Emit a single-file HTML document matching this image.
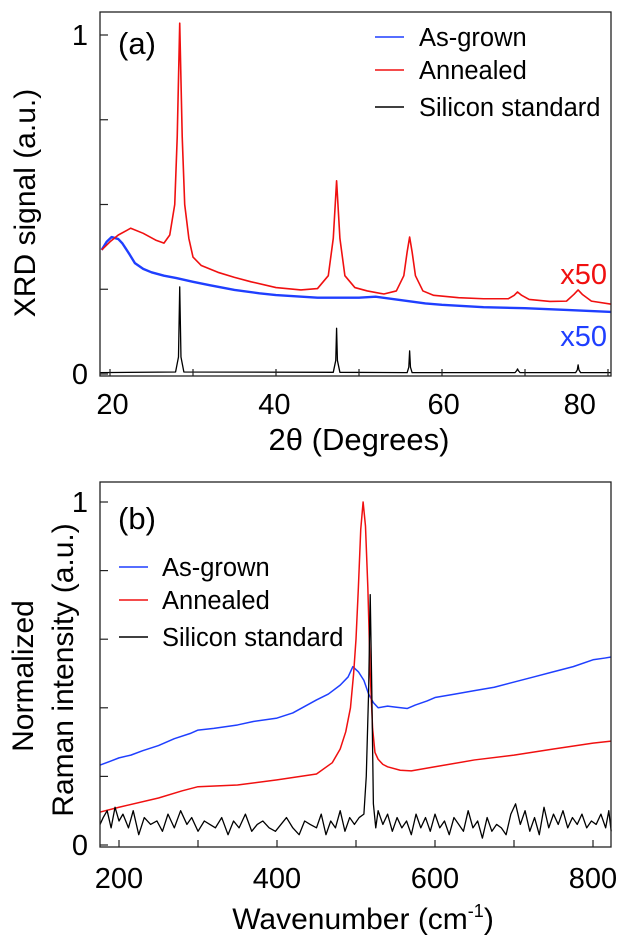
<!DOCTYPE html>
<html><head><meta charset="utf-8"><style>
html,body{margin:0;padding:0;background:#fff;}
svg{display:block;font-family:"Liberation Sans",Arial,sans-serif;}
</style></head><body>
<svg id="fig" width="624" height="947" viewBox="0 0 624 947" xmlns="http://www.w3.org/2000/svg">
<g id="pa"></g>
<g id="pb"></g>
</svg>
<script>
// ---------- Panel (a) XRD data ----------
const xrdAnnealedX=[19,20,21,22.5,24,25.5,26.5,27.2,27.8,28.1,28.4,28.7,29,29.5,30,31,33,35,37,40,43,45,46.3,46.9,47.3,47.7,48.3,49.5,51,53,54.5,55.4,55.8,56.1,56.4,56.8,57.7,59,62,65,68,68.7,69.1,69.6,70.5,73,75,75.9,76.4,76.9,78,80.4];
const xrdAnnealedY=[0.366,0.39,0.41,0.43,0.415,0.395,0.386,0.41,0.5,0.7,1.035,0.7,0.5,0.4,0.345,0.32,0.3,0.285,0.272,0.255,0.248,0.252,0.29,0.4,0.57,0.4,0.29,0.255,0.245,0.236,0.245,0.29,0.36,0.404,0.36,0.29,0.245,0.232,0.225,0.222,0.222,0.232,0.242,0.232,0.22,0.214,0.215,0.235,0.248,0.235,0.215,0.206];
const xrdGrownX=[19,19.6,20.2,21,21.5,22.3,23,24,25,26.5,28,30,32,35,38,40,45,50,52,55,58,60,65,70,75,80.4];
const xrdGrownY=[0.366,0.39,0.404,0.398,0.385,0.355,0.327,0.31,0.3,0.29,0.283,0.272,0.262,0.248,0.238,0.233,0.225,0.225,0.228,0.218,0.208,0.204,0.197,0.194,0.189,0.183];
const xrdSiX=[18.8,27.9,28.25,28.4,28.55,28.9,46.9,47.2,47.3,47.4,47.7,55.8,56.0,56.1,56.2,56.4,68.8,69.0,69.1,69.2,69.4,76.1,76.3,76.4,76.5,76.7,80.4];
const xrdSiY=[0.004,0.006,0.05,0.257,0.05,0.006,0.005,0.04,0.135,0.04,0.005,0.004,0.02,0.068,0.02,0.004,0.004,0.01,0.015,0.01,0.004,0.004,0.012,0.027,0.012,0.004,0.004];
const xrdXTicks=[20,30,40,50,60,70,80];
const xrdXLabels=["20","40","60","80"];
const xrdXLabelPos=[20.3,39.8,60.2,76.6];
const xrdYTicks=[0,0.25,0.5,0.75,1];
const xrdYLabels=["0","1"];
const xrdYLabelVals=[0,1];

// ---------- Panel (b) Raman data ----------
const ramGrownX=[176,190,200,215,230,250,270,290,300,320,350,370,400,420,450,465,480,490,496,503,510,516,522,528,540,550,565,575,590,600,625,650,675,700,725,750,775,800,815,823];
const ramGrownY=[0.233,0.245,0.254,0.262,0.275,0.29,0.31,0.325,0.335,0.34,0.35,0.36,0.37,0.385,0.423,0.44,0.466,0.49,0.52,0.505,0.48,0.44,0.415,0.4,0.405,0.402,0.398,0.408,0.42,0.43,0.44,0.45,0.46,0.475,0.49,0.505,0.52,0.54,0.545,0.548];
const ramAnnX=[176,200,250,280,300,350,400,450,470,480,487,493,497,500,503,506,509,512,515,518,521,524,528,534,540,556,570,600,650,700,750,800,823];
const ramAnnY=[0.096,0.11,0.137,0.158,0.17,0.175,0.19,0.207,0.24,0.28,0.33,0.4,0.5,0.6,0.75,0.92,1.0,0.93,0.75,0.5,0.34,0.27,0.25,0.235,0.228,0.218,0.216,0.228,0.248,0.262,0.28,0.297,0.303];
const ramSiX=[176,180,185,190,195,200,205,212,218,225,232,240,248,255,262,270,278,286,292,300,308,315,322,330,338,345,352,360,368,375,382,390,398,405,412,420,428,435,442,450,456,462,468,474,480,486,492,498,504,510,513,516,518,520,522,525,528,534,540,546,552,558,564,570,576,582,588,594,600,606,612,618,624,630,636,642,648,654,660,666,672,678,684,690,696,702,708,714,720,726,732,738,744,750,756,762,768,774,780,786,792,798,804,810,816,820,823];
const ramSiY=[0.06,0.08,0.1,0.05,0.11,0.07,0.09,0.05,0.1,0.03,0.08,0.06,0.07,0.04,0.09,0.05,0.1,0.06,0.08,0.04,0.07,0.06,0.05,0.08,0.03,0.07,0.05,0.09,0.04,0.06,0.07,0.05,0.04,0.06,0.08,0.05,0.03,0.07,0.06,0.05,0.09,0.03,0.07,0.05,0.1,0.04,0.08,0.06,0.08,0.09,0.2,0.45,0.73,0.45,0.12,0.05,0.1,0.06,0.09,0.04,0.08,0.05,0.07,0.03,0.09,0.05,0.08,0.04,0.09,0.05,0.07,0.03,0.08,0.06,0.04,0.1,0.05,0.07,0.02,0.08,0.04,0.06,0.05,0.03,0.09,0.12,0.06,0.1,0.04,0.08,0.03,0.11,0.05,0.09,0.06,0.1,0.05,0.08,0.06,0.09,0.05,0.07,0.06,0.09,0.05,0.1,0.04];
const ramXTicks=[200,300,400,500,600,700,800];
const ramXLabels=["200","400","600","800"];
const ramXLabelVals=[200,400,600,800];
const ramYTicks=[0,0.2,0.4,0.6,0.8,1];
const ramYLabels=["0","1"];
const ramYLabelVals=[0,1];

const NS="http://www.w3.org/2000/svg";
function mk(parent,tag,attrs,text){const e=document.createElementNS(NS,tag);for(const k in attrs)e.setAttribute(k,attrs[k]);if(text!==undefined)e.textContent=text;parent.appendChild(e);return e;}

const ax={x0:100,x1:611,y0:12,y1:376};
const xA=d=>110+(d-20)*8.3;
const yA=v=>374-v*339;
const bx={x0:100,x1:611,y0:482,y1:847};
const xB=w=>119+(w-200)*0.79;
const yB=v=>845-v*343;

function path(parent,xs,ys,fx,fy,color,w,name){
  let d="";for(let i=0;i<xs.length;i++){d+=(i?"L":"M")+fx(xs[i]).toFixed(2)+","+fy(ys[i]).toFixed(2);}
  const p=mk(parent,"path",{d:d,fill:"none",stroke:color,"stroke-width":w,"stroke-linejoin":"round"});
  
  
  return p;
}

// ----- Panel A -----
const pa=document.getElementById("pa");
path(pa,xrdGrownX,xrdGrownY,xA,yA,"#1f3fff",2.4,"as-grown-xrd-line");
path(pa,xrdAnnealedX,xrdAnnealedY,xA,yA,"#f01010",1.6,"annealed-xrd-line");
path(pa,xrdSiX,xrdSiY,xA,yA,"#000",1.3,"silicon-standard-xrd-line");
const fa=mk(pa,"rect",{x:ax.x0,y:ax.y0,width:ax.x1-ax.x0,height:ax.y1-ax.y0,fill:"none",stroke:"#222","stroke-width":1.3});


xrdXTicks.forEach(t=>{const l=mk(pa,"line",{x1:xA(t),x2:xA(t),y1:ax.y1,y2:ax.y1-7,stroke:"#222","stroke-width":1.2});
  
  });
xrdYTicks.forEach(t=>{const l=mk(pa,"line",{x1:ax.x0,x2:ax.x0+8,y1:yA(t),y2:yA(t),stroke:"#222","stroke-width":1.2});
  
  });
xrdXLabels.forEach((s,i)=>{const t=mk(pa,"text",{x:xA(xrdXLabelPos[i]),y:414,"text-anchor":"middle","font-size":29},s);
  
  });
xrdYLabels.forEach((s,i)=>{const t=mk(pa,"text",{x:88,y:yA(xrdYLabelVals[i])+10,"text-anchor":"end","font-size":29},s);
  
  });
let t;
t=mk(pa,"text",{x:359,y:450,"text-anchor":"middle","font-size":31},"2θ (Degrees)");


t=mk(pa,"text",{x:0,y:0,"text-anchor":"middle","font-size":30,transform:"translate(35,203) rotate(-90)"},"XRD signal (a.u.)");


t=mk(pa,"text",{x:118,y:54,"font-size":31},"(a)");


t=mk(pa,"text",{x:607,y:284,"text-anchor":"end","font-size":29,fill:"#f01010"},"x50");


t=mk(pa,"text",{x:607,y:346,"text-anchor":"end","font-size":29,fill:"#1f3fff"},"x50");


const legA=[["As-grown","#1f3fff",37],["Annealed","#f01010",70],["Silicon standard","#000",107]];
legA.forEach(e=>{
  const g=mk(pa,"g",{});
  
  
  mk(g,"line",{x1:375,x2:404,y1:e[2],y2:e[2],stroke:e[1],"stroke-width":1.6});
  mk(g,"text",{x:419,y:e[2]+9,"font-size":25.5},e[0]);
});

// ----- Panel B -----
const pb=document.getElementById("pb");
path(pb,ramGrownX,ramGrownY,xB,yB,"#1f3fff",1.5,"as-grown-raman-line");
path(pb,ramAnnX,ramAnnY,xB,yB,"#f01010",1.5,"annealed-raman-line");
path(pb,ramSiX,ramSiY,xB,yB,"#000",1.3,"silicon-standard-raman-line");
const fb=mk(pb,"rect",{x:bx.x0,y:bx.y0,width:bx.x1-bx.x0,height:bx.y1-bx.y0,fill:"none",stroke:"#222","stroke-width":1.3});


ramXTicks.forEach(v=>{const l=mk(pb,"line",{x1:xB(v),x2:xB(v),y1:bx.y1,y2:bx.y1-7,stroke:"#222","stroke-width":1.2});
  
  });
ramYTicks.forEach(v=>{const l=mk(pb,"line",{x1:bx.x0,x2:bx.x0+8,y1:yB(v),y2:yB(v),stroke:"#222","stroke-width":1.2});
  
  });
ramXLabels.forEach((s,i)=>{const q=mk(pb,"text",{x:xB(ramXLabelVals[i]),y:888,"text-anchor":"middle","font-size":29},s);
  
  });
ramYLabels.forEach((s,i)=>{const q=mk(pb,"text",{x:88,y:yB(ramYLabelVals[i])+10,"text-anchor":"end","font-size":29},s);
  
  });
t=mk(pb,"text",{x:363,y:929,"text-anchor":"middle","font-size":30});


t.innerHTML='Wavenumber (cm<tspan font-size="18" dy="-12">-1</tspan><tspan dy="12">)</tspan>';
t=mk(pb,"text",{x:0,y:0,"text-anchor":"middle","font-size":30,transform:"translate(33,676) rotate(-90)"},"Normalized");


t=mk(pb,"text",{x:0,y:0,"text-anchor":"middle","font-size":30,transform:"translate(73,670) rotate(-90)"},"Raman intensity (a.u.)");


t=mk(pb,"text",{x:118,y:529,"font-size":31},"(b)");


const legB=[["As-grown","#1f3fff",567],["Annealed","#f01010",600],["Silicon standard","#000",637]];
legB.forEach(e=>{
  const g=mk(pb,"g",{});
  
  
  mk(g,"line",{x1:119,x2:148,y1:e[2],y2:e[2],stroke:e[1],"stroke-width":1.6});
  mk(g,"text",{x:162,y:e[2]+9,"font-size":25.5},e[0]);
});
</script>
</body></html>
